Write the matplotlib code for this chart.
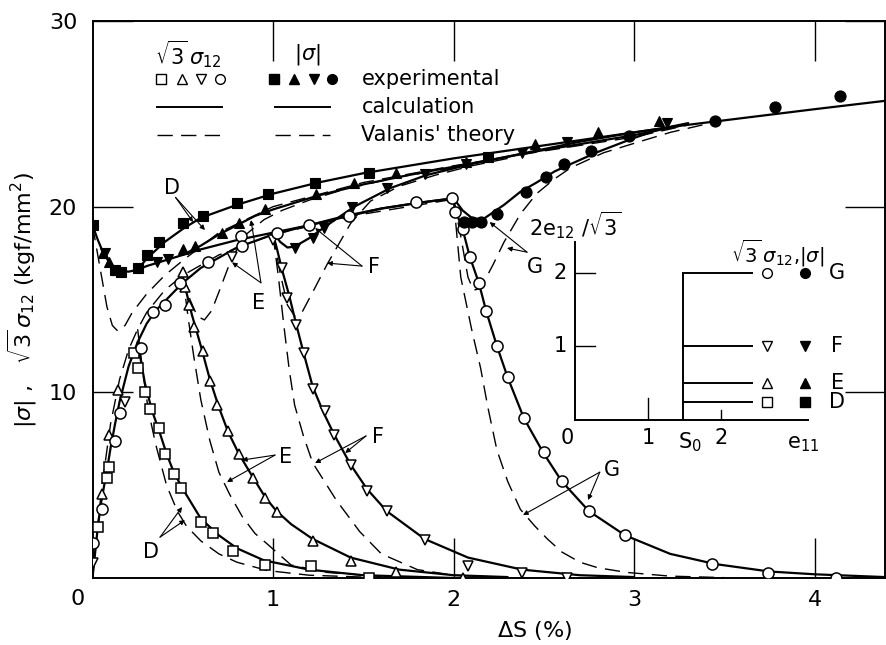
import matplotlib
matplotlib.use('Agg')
import matplotlib.pyplot as plt

plt.rcParams['font.family'] = ['DejaVu Sans']
plt.rcParams['mathtext.fontset'] = 'dejavusans'

# ---------------- data ----------------
# open symbols: sqrt(3)*sigma12 ; filled symbols: |sigma|
D_open_x = [0.03, 0.08, 0.09, 0.23, 0.25, 0.29, 0.32, 0.37, 0.40, 0.45, 0.49, 0.60, 0.67, 0.78, 0.955, 1.21, 1.53]
D_open_y = [2.75, 5.4, 6.0, 12.1, 11.3, 10.0, 9.1, 8.1, 6.7, 5.6, 4.85, 3.0, 2.4, 1.45, 0.7, 0.65, 0.0]
E_open_x = [0.05, 0.09, 0.14, 0.50, 0.51, 0.535, 0.56, 0.61, 0.65, 0.69, 0.75, 0.81, 0.89, 0.955, 1.02, 1.22, 1.43, 1.68, 2.05]
E_open_y = [4.5, 7.7, 10.1, 16.5, 15.7, 14.7, 13.5, 12.2, 10.6, 9.3, 7.9, 6.7, 5.4, 4.3, 3.55, 2.0, 0.9, 0.32, 0.0]
F_open_x = [0.0, 0.18, 0.77, 1.0, 1.05, 1.08, 1.13, 1.17, 1.22, 1.29, 1.34, 1.43, 1.52, 1.63, 1.84, 2.08, 2.38, 2.63]
F_open_y = [0.8, 9.5, 17.3, 18.2, 16.7, 15.1, 13.6, 12.1, 10.2, 9.0, 7.7, 6.1, 4.7, 3.6, 2.05, 0.65, 0.26, 0.0]
G_open_x = [0.003, 0.05, 0.125, 0.15, 0.27, 0.335, 0.40, 0.485, 0.64, 0.82, 0.83, 1.02, 1.2, 1.42, 1.79, 1.99,
            2.01, 2.05, 2.09, 2.14, 2.18, 2.24, 2.30, 2.39, 2.50, 2.60, 2.75, 2.95, 3.43, 3.74, 4.12]
G_open_y = [1.9, 3.7, 7.4, 8.9, 12.4, 14.3, 14.7, 15.9, 17.0, 18.4, 17.9, 18.6, 19.0, 19.5, 20.25, 20.45,
            19.7, 18.8, 17.3, 15.9, 14.4, 12.5, 10.8, 8.6, 6.8, 5.2, 3.6, 2.3, 0.75, 0.27, 0.0]

D_fill_x = [0.0, 0.125, 0.16, 0.25, 0.30, 0.37, 0.50, 0.61, 0.80, 0.97, 1.23, 1.53, 2.19]
D_fill_y = [19.0, 16.6, 16.5, 16.7, 17.4, 18.1, 19.1, 19.5, 20.2, 20.7, 21.3, 21.8, 22.7]
E_fill_x = [0.06, 0.09, 0.13, 0.50, 0.57, 0.72, 0.81, 0.955, 1.24, 1.45, 1.68, 2.07, 2.45, 2.80, 3.14]
E_fill_y = [17.5, 17.0, 16.6, 17.7, 17.9, 18.6, 19.1, 19.9, 20.7, 21.3, 21.8, 22.4, 23.4, 24.0, 24.6]
F_fill_x = [0.07, 0.36, 0.42, 1.12, 1.22, 1.28, 1.44, 1.63, 1.84, 2.07, 2.38, 2.63, 3.18]
F_fill_y = [17.5, 17.0, 17.2, 17.8, 18.3, 18.85, 20.0, 21.0, 21.75, 22.3, 22.9, 23.5, 24.5]
G_fill_x = [2.06, 2.10, 2.15, 2.24, 2.40, 2.51, 2.61, 2.76, 2.97, 3.45, 3.78, 4.14]
G_fill_y = [19.2, 19.2, 19.2, 19.6, 20.8, 21.6, 22.3, 23.0, 23.8, 24.6, 25.35, 25.95]

# calculation (solid)
calc_rise_x = [0.0, 0.03, 0.05, 0.08, 0.10, 0.125, 0.15, 0.20, 0.25, 0.30, 0.35, 0.40, 0.50, 0.60, 0.80, 1.0, 1.2, 1.4, 1.6, 1.8, 2.0]
calc_rise_y = [0.0, 2.8, 4.2, 5.8, 7.0, 8.3, 9.5, 11.4, 12.7, 13.7, 14.4, 14.9, 15.9, 16.7, 17.8, 18.5, 19.0, 19.5, 19.9, 20.2, 20.45]
calc_D12_x = [0.25, 0.29, 0.33, 0.37, 0.41, 0.45, 0.50, 0.60, 0.70, 0.80, 0.95, 1.2, 1.5, 2.0]
calc_D12_y = [12.7, 10.5, 9.0, 7.9, 6.7, 5.7, 4.8, 3.2, 2.3, 1.6, 0.95, 0.45, 0.15, 0.0]
calc_E12_x = [0.50, 0.52, 0.55, 0.60, 0.65, 0.70, 0.75, 0.81, 0.89, 0.96, 1.02, 1.10, 1.22, 1.43, 1.70, 2.0, 2.3]
calc_E12_y = [15.9, 15.4, 14.2, 12.5, 10.7, 9.2, 7.9, 6.7, 5.4, 4.3, 3.6, 2.9, 2.1, 1.1, 0.45, 0.15, 0.05]
calc_F12_x = [1.0, 1.02, 1.05, 1.09, 1.13, 1.17, 1.22, 1.28, 1.34, 1.43, 1.52, 1.63, 1.84, 2.08, 2.38, 2.7, 3.0]
calc_F12_y = [18.5, 17.8, 16.6, 15.2, 13.6, 12.1, 10.3, 8.9, 7.7, 6.1, 4.8, 3.6, 2.1, 1.1, 0.45, 0.15, 0.05]
calc_G12_x = [2.0, 2.01, 2.05, 2.09, 2.14, 2.18, 2.24, 2.30, 2.39, 2.50, 2.60, 2.75, 2.95, 3.2, 3.45, 3.75, 4.0, 4.39]
calc_G12_y = [20.45, 19.8, 18.8, 17.3, 15.9, 14.4, 12.5, 10.8, 8.6, 6.7, 5.2, 3.6, 2.3, 1.3, 0.75, 0.35, 0.2, 0.05]
calc_dip_x = [0.0, 0.03, 0.06, 0.10, 0.15, 0.20, 0.25]
calc_dip_y = [19.0, 18.2, 17.5, 16.9, 16.55, 16.5, 16.6]
calc_Dabs_x = [0.25, 0.30, 0.40, 0.50, 0.60, 0.80, 1.0, 1.25, 1.5, 1.75, 2.0, 2.25, 2.5, 2.75, 3.0, 3.25, 3.5, 3.75, 4.0, 4.39]
calc_Dabs_y = [16.6, 17.2, 18.1, 18.8, 19.4, 20.1, 20.7, 21.3, 21.8, 22.2, 22.6, 22.95, 23.3, 23.65, 24.0, 24.35, 24.65, 24.95, 25.25, 25.7]
calc_shear_abs_x = [0.25, 0.30, 0.40, 0.50, 0.60, 0.80, 1.0, 1.2, 1.4, 1.6, 1.8, 2.0]
calc_shear_abs_y = [16.6, 16.8, 17.1, 17.4, 17.7, 18.2, 18.6, 19.0, 19.45, 19.9, 20.2, 20.45]
calc_Eabs_x = [0.50, 0.60, 0.70, 0.80, 0.90, 1.0, 1.25, 1.5, 1.75, 2.0, 2.5, 3.0, 3.25]
calc_Eabs_y = [17.4, 17.9, 18.5, 19.0, 19.5, 19.85, 20.6, 21.2, 21.7, 22.15, 23.05, 23.85, 24.35]
calc_Fabs_x = [1.0, 1.04, 1.08, 1.12, 1.20, 1.30, 1.45, 1.65, 1.85, 2.1, 2.4, 2.7, 3.0, 3.25]
calc_Fabs_y = [18.6, 18.1, 17.8, 17.85, 18.3, 19.0, 20.0, 21.0, 21.7, 22.3, 22.9, 23.5, 24.0, 24.35]
calc_Gabs_x = [2.0, 2.05, 2.10, 2.16, 2.22, 2.28, 2.37, 2.46, 2.56, 2.65, 2.80, 3.0, 3.15, 3.3]
calc_Gabs_y = [20.45, 19.8, 19.4, 19.3, 19.7, 20.1, 20.8, 21.3, 21.9, 22.3, 22.95, 23.7, 24.2, 24.5]

# Valanis' theory (dashed)
val_rise_x = [0.0, 0.05, 0.10, 0.15, 0.20, 0.25, 0.30, 0.40, 0.50, 0.70, 1.0, 1.5, 2.0]
val_rise_y = [0.0, 4.8, 8.3, 10.7, 12.3, 13.4, 14.3, 15.5, 16.3, 17.4, 18.5, 19.6, 20.4]
val_D12_x = [0.25, 0.28, 0.31, 0.35, 0.41, 0.47, 0.52, 0.60, 0.70, 0.80, 0.97, 1.2, 1.5]
val_D12_y = [13.4, 11.0, 9.0, 7.2, 5.0, 3.6, 2.8, 2.0, 1.3, 0.85, 0.4, 0.15, 0.05]
val_E12_x = [0.50, 0.53, 0.56, 0.60, 0.65, 0.70, 0.76, 0.83, 0.90, 0.96, 1.10, 1.30, 1.60]
val_E12_y = [16.3, 14.0, 12.0, 9.6, 7.4, 5.7, 4.5, 3.3, 2.4, 1.9, 0.7, 0.3, 0.08]
val_F12_x = [1.0, 1.03, 1.06, 1.09, 1.12, 1.17, 1.22, 1.35, 1.48, 1.60, 1.80, 2.0, 2.3]
val_F12_y = [18.5, 16.2, 13.6, 11.2, 9.3, 7.6, 6.2, 4.2, 2.5, 1.3, 0.45, 0.15, 0.03]
val_G12_x = [2.0, 2.04, 2.10, 2.15, 2.19, 2.24, 2.30, 2.37, 2.45, 2.52, 2.60, 2.70, 2.80, 2.96, 3.2, 3.5]
val_G12_y = [20.4, 16.2, 13.4, 11.3, 9.2, 6.9, 5.2, 3.7, 2.8, 2.1, 1.4, 0.85, 0.55, 0.3, 0.1, 0.02]
val_Dabs_x = [0.0, 0.04, 0.08, 0.11, 0.14, 0.18, 0.22, 0.30, 0.40, 0.50, 0.70, 1.0, 1.5, 2.0, 2.5, 3.0, 3.3]
val_Dabs_y = [19.0, 16.8, 14.6, 13.6, 13.3, 13.6, 14.3, 15.3, 16.3, 17.1, 18.6, 20.0, 21.3, 22.2, 23.0, 23.75, 24.4]
val_Eabs_x = [0.50, 0.54, 0.58, 0.62, 0.66, 0.70, 0.77, 0.85, 0.95, 1.05, 1.2, 1.4, 1.7, 2.0]
val_Eabs_y = [16.3, 15.0, 14.1, 13.9, 14.4, 15.4, 17.2, 18.5, 19.3, 19.8, 20.35, 20.95, 21.6, 22.1]
val_Fabs_x = [1.0, 1.04, 1.08, 1.12, 1.16, 1.22, 1.30, 1.43, 1.54, 1.70, 1.90, 2.1, 2.3]
val_Fabs_y = [18.5, 16.4, 14.7, 14.1, 14.3, 15.4, 16.9, 19.1, 20.3, 21.1, 21.7, 22.2, 22.6]
val_Gabs_x = [2.0, 2.04, 2.08, 2.11, 2.15, 2.22, 2.28, 2.37, 2.46, 2.56, 2.65, 2.83, 3.03, 3.2, 3.4]
val_Gabs_y = [20.4, 18.4, 16.2, 15.5, 15.6, 16.9, 18.1, 19.6, 20.7, 21.5, 22.1, 22.9, 23.5, 24.0, 24.45]

# inset: strain paths
inset_names = ['D', 'E', 'F', 'G']
inset_levels = [0.25, 0.5, 1.0, 2.0]
S0 = 1.48
inset_path_end = 2.42

x_ticks = [1, 2, 3, 4]
y_ticks = [10, 20, 30]

# ---------------- figure ----------------
fig = plt.figure(figsize=(8.86, 6.45), dpi=100)
ax = fig.add_axes([92.5 / 886, 67 / 645, (885 - 92.5) / 886, 557 / 645])
ax.set_xlim(0, 4.39)
ax.set_ylim(0, 30)
for s in ax.spines.values():
    s.set_linewidth(1.4)

ax.set_xticks(x_ticks)
ax.set_yticks(y_ticks)
ax.tick_params(direction='in', length=29, width=1.0, top=True, right=True, labelsize=16)
ax.tick_params(axis='x', pad=9)
ax.tick_params(axis='y', pad=11)
ax.text(-0.085, -0.6, '0', fontsize=16, ha='center', va='top')

SOL = dict(color='black', lw=1.6, solid_capstyle='round')
DSH = dict(color='black', lw=1.0, dashes=(11, 6))

for xs, ys in [(calc_rise_x, calc_rise_y), (calc_D12_x, calc_D12_y), (calc_E12_x, calc_E12_y),
               (calc_F12_x, calc_F12_y), (calc_G12_x, calc_G12_y), (calc_dip_x, calc_dip_y),
               (calc_Dabs_x, calc_Dabs_y), (calc_shear_abs_x, calc_shear_abs_y),
               (calc_Eabs_x, calc_Eabs_y), (calc_Fabs_x, calc_Fabs_y), (calc_Gabs_x, calc_Gabs_y)]:
    ax.plot(xs, ys, **SOL)
for xs, ys in [(val_rise_x, val_rise_y), (val_D12_x, val_D12_y), (val_E12_x, val_E12_y),
               (val_F12_x, val_F12_y), (val_G12_x, val_G12_y), (val_Dabs_x, val_Dabs_y),
               (val_Eabs_x, val_Eabs_y), (val_Fabs_x, val_Fabs_y), (val_Gabs_x, val_Gabs_y)]:
    ax.plot(xs, ys, **DSH)

OPEN = dict(ls='none', mfc='white', mec='black', mew=1.1, zorder=5)
FILL = dict(ls='none', mfc='black', mec='black', mew=0.8, zorder=5)
ax.plot(D_open_x, D_open_y, marker='s', ms=7, **OPEN)
ax.plot(E_open_x, E_open_y, marker='^', ms=7.5, **OPEN)
ax.plot(F_open_x, F_open_y, marker='v', ms=7.5, **OPEN)
ax.plot(G_open_x, G_open_y, marker='o', ms=8, **OPEN)
ax.plot(D_fill_x, D_fill_y, marker='s', ms=7, **FILL)
ax.plot(E_fill_x, E_fill_y, marker='^', ms=7.5, **FILL)
ax.plot(F_fill_x, F_fill_y, marker='v', ms=7.5, **FILL)
ax.plot(G_fill_x, G_fill_y, marker='o', ms=8, **FILL)

# ---------------- legend (drawn by hand) ----------------
ax.text(0.53, 28.2, r'$\sqrt{3}\,\sigma_{12}$', fontsize=15, ha='center', va='center')
ax.text(1.19, 28.2, r'$|\sigma|$', fontsize=15, ha='center', va='center')
for xm, m in zip([0.378, 0.496, 0.599, 0.706], ['s', '^', 'v', 'o']):
    ax.plot([xm], [26.87], marker=m, ms=7, mfc='white', mec='black', mew=1.0, clip_on=False)
for xm, m in zip([1.006, 1.116, 1.227, 1.327], ['s', '^', 'v', 'o']):
    ax.plot([xm], [26.87], marker=m, ms=7, mfc='black', mec='black', clip_on=False)
ax.plot([0.357, 0.717], [25.36, 25.36], color='black', lw=1.4)
ax.plot([1.011, 1.316], [25.36, 25.36], color='black', lw=1.4)
ax.plot([0.357, 0.717], [23.86, 23.86], **DSH)
ax.plot([1.011, 1.316], [23.86, 23.86], **DSH)
ax.text(1.49, 26.87, 'experimental', fontsize=15, va='center', ha='left')
ax.text(1.49, 25.36, 'calculation', fontsize=15, va='center', ha='left')
ax.text(1.49, 23.86, "Valanis' theory", fontsize=15, va='center', ha='left')

# ---------------- curve labels ----------------
ARR = dict(arrowstyle='-|>', lw=0.8, color='black', mutation_scale=7, shrinkA=0, shrinkB=0)
labels = [
    ('D', (0.44, 21.0), (0.46, 20.5), [(0.557, 19.17), (0.623, 18.74)]),
    ('E', (0.92, 14.8), (0.933, 15.9), [(0.878, 19.28), (0.773, 17.0)]),
    ('F', (1.56, 16.75), (1.493, 16.8), [(1.233, 18.85), (1.30, 16.96)]),
    ('G', (2.45, 16.75), (2.407, 17.55), [(2.20, 19.17), (2.296, 17.77)]),
    ('D', (0.324, 1.4), (0.374, 2.2), [(0.496, 3.82), (0.512, 3.12)]),
    ('E', (1.07, 6.52), (1.011, 6.62), [(0.828, 6.35), (0.745, 5.17)]),
    ('F', (1.58, 7.6), (1.515, 7.65), [(1.40, 6.73), (1.233, 6.19)]),
    ('G', (2.88, 5.8), (2.81, 5.7), [(2.385, 3.39), (2.745, 4.2)]),
]
for name, tpos, start, ends in labels:
    ax.text(tpos[0], tpos[1], name, fontsize=15, ha='center', va='center')
    for e in ends:
        ax.annotate('', xy=e, xytext=start, arrowprops=ARR)

# ---------------- axis titles ----------------
fig.text(22 / 886, 1 - 300 / 645, r'$|\sigma|$ ,   $\sqrt{3}\,\sigma_{12}$ (kgf/mm$^2$)',
         rotation=90, fontsize=16, ha='center', va='center')
fig.text(534 / 886, 1 - 630 / 645, r'$\mathit{\Delta}$S (%)', fontsize=16, ha='center', va='center')

# ---------------- inset ----------------
ai = fig.add_axes([575 / 886, (645 - 420) / 645, 233 / 886, 178 / 645])
ai.set_xlim(0, 3.19)
ai.set_ylim(0, 2.42)
ai.patch.set_alpha(0)
for k in ['top', 'right']:
    ai.spines[k].set_visible(False)
for k in ['left', 'bottom']:
    ai.spines[k].set_linewidth(1.4)
ai.set_xticks([])
ai.set_yticks([])
for yv in [1, 2]:
    ai.plot([0, 0.27], [yv, yv], color='black', lw=1.0)
ai.plot([1, 1], [0, 0.3], color='black', lw=1.0)
ai.plot([2, 2], [0, 0.14], color='black', lw=1.0)
ai.plot([S0, S0], [0, max(inset_levels)], color='black', lw=1.4)
open_m = {'D': 's', 'E': '^', 'F': 'v', 'G': 'o'}
for nm, lv in zip(inset_names, inset_levels):
    ai.plot([S0, inset_path_end], [lv, lv], color='black', lw=1.4)
    ai.plot([2.63], [lv], marker=open_m[nm], ms=7, mfc='white', mec='black', mew=1.0, clip_on=False)
    ai.plot([3.15], [lv], marker=open_m[nm], ms=7, mfc='black', mec='black', clip_on=False)
    ai.text(3.59, lv, nm, fontsize=15, ha='center', va='center', clip_on=False)
ai.text(-0.2, 2.0, '2', fontsize=15, ha='center', va='center')
ai.text(-0.2, 1.0, '1', fontsize=15, ha='center', va='center')
ai.text(-0.1, -0.25, '0', fontsize=15, ha='center', va='center')
ai.text(1.0, -0.25, '1', fontsize=15, ha='center', va='center')
ai.text(2.0, -0.25, '2', fontsize=15, ha='center', va='center')
ai.text(S0 + 0.1, -0.3, r'S$_0$', fontsize=15, ha='center', va='center')
ai.text(3.12, -0.32, r'e$_{11}$', fontsize=15, ha='center', va='center')
ai.text(0.0, 2.65, r'2e$_{12}$ /$\sqrt{3}$', fontsize=15, ha='center', va='center', clip_on=False)
ai.text(2.77, 2.27, r'$\sqrt{3}\,\sigma_{12}$,$|\sigma|$', fontsize=14, ha='center', va='center', clip_on=False)

fig.savefig('out.png', dpi=100)
